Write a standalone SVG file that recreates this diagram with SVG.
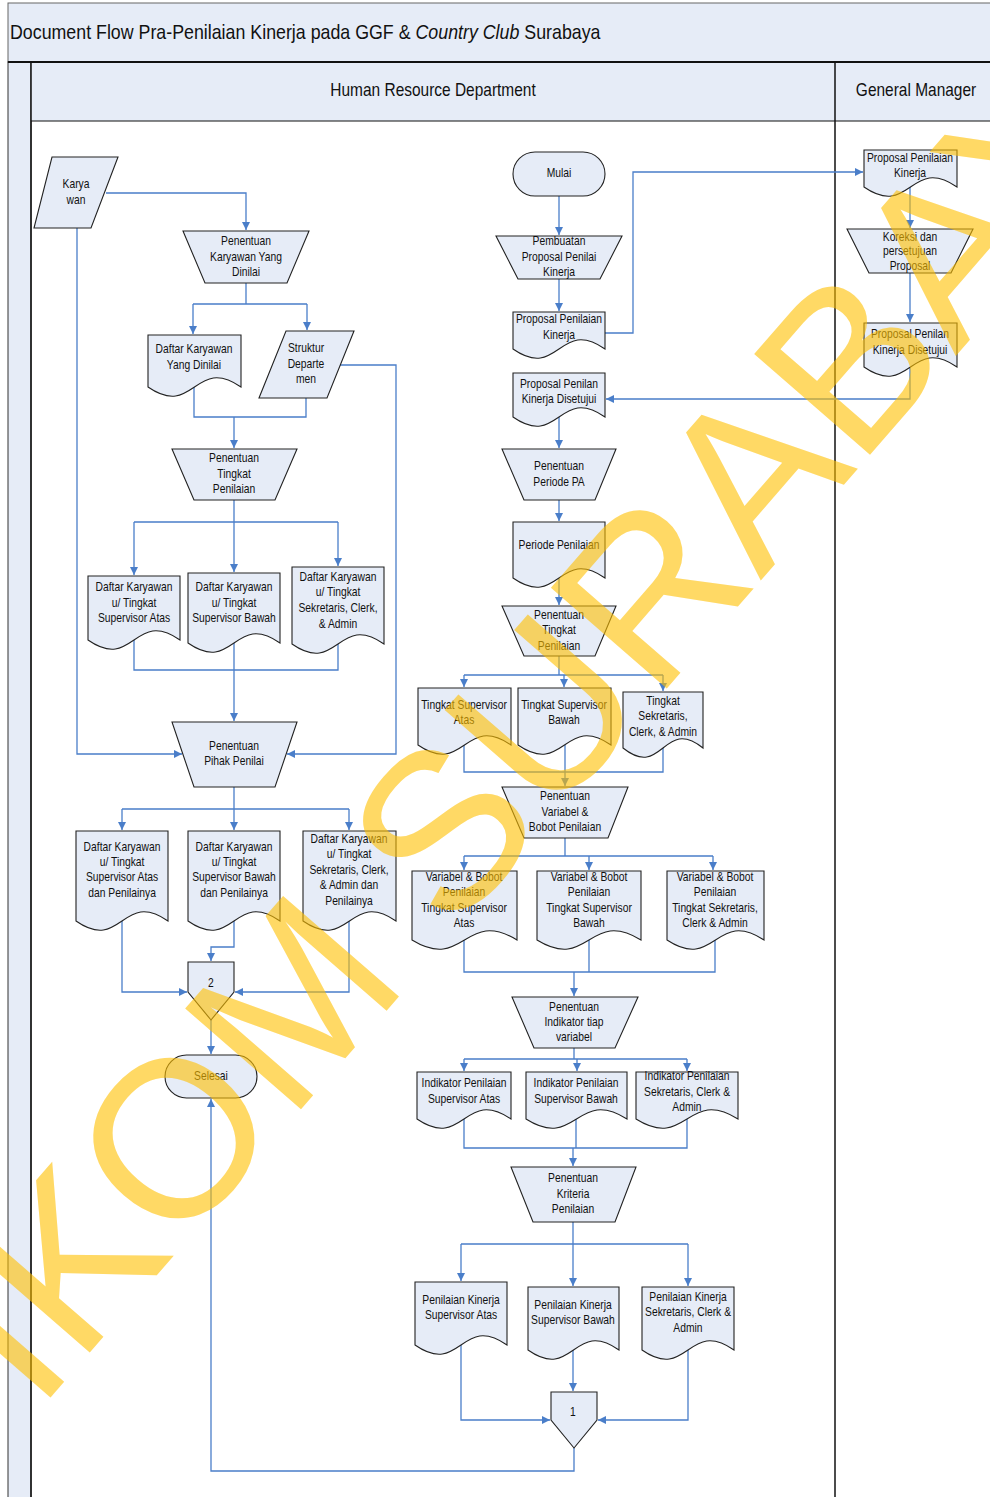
<svg xmlns="http://www.w3.org/2000/svg" width="990" height="1497" viewBox="0 0 990 1497">
<defs>
<style>
.t{font-family:"Liberation Sans",Arial,sans-serif;font-size:12px;fill:#111;text-anchor:middle;transform-box:fill-box;transform-origin:center;transform:scaleX(0.86)}
.h{font-size:18px}
.ttl{font-family:"Liberation Sans",Arial,sans-serif;font-size:20.7px;fill:#111;transform-box:fill-box;transform-origin:left center;transform:scaleX(0.86)}
.n{fill:#E6ECF7;stroke:#222;stroke-width:1.1}
.c{fill:none;stroke:#4A7EC9;stroke-width:1.3}
.a{marker-end:url(#ar)}
.wm{font-family:"Liberation Sans",Arial,sans-serif;font-size:223px;fill:#FFC000;opacity:0.6}
</style>
<marker id="ar" markerUnits="userSpaceOnUse" markerWidth="9" markerHeight="9" refX="8" refY="4" orient="auto">
<path d="M0,0 L8,4 L0,8 Z" fill="#4A7EC9"/>
</marker>
</defs>
<rect x="0" y="0" width="990" height="1497" fill="#fff"/>
<g id="frame">
<rect x="8" y="3" width="990" height="59" fill="#E6ECF7" stroke="#666" stroke-width="1"/>
<rect x="8" y="62" width="23" height="1440" fill="#E6ECF7" stroke="#333" stroke-width="1"/>
<rect x="31" y="62" width="960" height="59" fill="#E6ECF7"/>
<line x1="8" y1="62" x2="990" y2="62" stroke="#111" stroke-width="2"/>
<line x1="31" y1="121" x2="990" y2="121" stroke="#111" stroke-width="1.2"/>
<line x1="31" y1="62" x2="31" y2="1497" stroke="#111" stroke-width="1.5"/>
<line x1="835" y1="62" x2="835" y2="1497" stroke="#111" stroke-width="1.5"/>
<text class="ttl" x="10" y="39">Document Flow Pra-Penilaian Kinerja pada GGF &amp; <tspan font-style="italic">Country Club</tspan> Surabaya</text>
<text class="t h" x="433" y="96">Human Resource Department</text>
<text class="t h" x="916" y="96">General Manager</text>
</g>
<g id="connectors">
<path class="c a" d="M106,193 H246 V230"/>
<path class="c a" d="M77,228 V754 H182"/>
<path class="c" d="M246,283 V304 M193,304 H307"/>
<path class="c a" d="M193,304 V334"/>
<path class="c a" d="M307,304 V330"/>
<path class="c a" d="M340,365 H396 V754 H287"/>
<path class="c" d="M194,387 V417 H306 V398"/>
<path class="c a" d="M234,417 V448"/>
<path class="c" d="M234,500 V522 M134,522 H338"/>
<path class="c a" d="M134,522 V575"/>
<path class="c a" d="M234,522 V572"/>
<path class="c a" d="M338,522 V566"/>
<path class="c" d="M134,640 V670 H338 V644 M234,643 V670"/>
<path class="c a" d="M234,670 V721"/>
<path class="c" d="M234,787 V809 M122,809 H349"/>
<path class="c a" d="M122,809 V830"/>
<path class="c a" d="M234,809 V830"/>
<path class="c a" d="M349,809 V830"/>
<path class="c a" d="M122,921 V992 H187"/>
<path class="c a" d="M234,921 V947 H211 V961"/>
<path class="c a" d="M349,921 V992 H235"/>
<path class="c a" d="M211,1020 V1054"/>
<path class="c a" d="M574,1448 V1471 H211 V1099"/>
<path class="c a" d="M559,196 V235"/>
<path class="c a" d="M559,279 V311"/>
<path class="c a" d="M605,333 H633 V172 H863"/>
<path class="c a" d="M910,187 V228"/>
<path class="c a" d="M910,273 V322"/>
<path class="c a" d="M910,367 V399 H606"/>
<path class="c a" d="M559,417 V448"/>
<path class="c a" d="M559,500 V521"/>
<path class="c a" d="M559,578 V605"/>
<path class="c" d="M559,656 V675 M464,675 H663"/>
<path class="c a" d="M464,675 V687"/>
<path class="c a" d="M564,675 V687"/>
<path class="c a" d="M663,675 V691"/>
<path class="c" d="M464,745 V772 H663 V748 M565,745 V772"/>
<path class="c a" d="M565,772 V786"/>
<path class="c" d="M565,838 V856 M464,856 H713"/>
<path class="c a" d="M464,856 V870"/>
<path class="c a" d="M589,856 V870"/>
<path class="c a" d="M713,856 V870"/>
<path class="c" d="M464,940 V972 H715 V940 M589,940 V972"/>
<path class="c a" d="M574,972 V996"/>
<path class="c" d="M574,1048 V1059 M464,1059 H687"/>
<path class="c a" d="M464,1059 V1071"/>
<path class="c a" d="M577,1059 V1071"/>
<path class="c a" d="M687,1059 V1071"/>
<path class="c" d="M464,1119 V1148 H687 V1119 M576,1119 V1148"/>
<path class="c a" d="M573,1148 V1166"/>
<path class="c" d="M573,1222 V1244 M461,1244 H688"/>
<path class="c a" d="M461,1244 V1281"/>
<path class="c a" d="M573,1244 V1286"/>
<path class="c a" d="M688,1244 V1286"/>
<path class="c a" d="M461,1345 V1420 H550"/>
<path class="c a" d="M573,1350 V1391"/>
<path class="c a" d="M688,1350 V1420 H598"/>
</g>
<g id="n-karyawan"><path class="n" d="M52,157 H118 L91,228 H34 Z"/><text class="t" x="76" y="188">Karya</text><text class="t" x="76" y="204">wan</text></g>
<g id="n-pen-karyawan"><path class="n" d="M183,231 H309 L287,283 H205 Z"/><text class="t" x="246" y="245">Penentuan</text><text class="t" x="246" y="261">Karyawan Yang</text><text class="t" x="246" y="276">Dinilai</text></g>
<g id="n-daftar-dinilai"><path class="n" d="M148,335 H241 V387 C194.5,355 194.5,419 148,387 Z"/><text class="t" x="194" y="353">Daftar Karyawan</text><text class="t" x="194" y="369">Yang Dinilai</text></g>
<g id="n-struktur"><path class="n" d="M286,331 H354 L327,398 H259 Z"/><text class="t" x="306" y="352">Struktur</text><text class="t" x="306" y="368">Departe</text><text class="t" x="306" y="383">men</text></g>
<g id="n-pen-tingkat-l"><path class="n" d="M172,449 H297 L275,500 H194 Z"/><text class="t" x="234" y="462">Penentuan</text><text class="t" x="234" y="478">Tingkat</text><text class="t" x="234" y="493">Penilaian</text></g>
<g id="n-daftar-sa"><path class="n" d="M88,576 H180 V640 C134,608 134,672 88,640 Z"/><text class="t" x="134" y="591">Daftar Karyawan</text><text class="t" x="134" y="607">u/ Tingkat</text><text class="t" x="134" y="622">Supervisor Atas</text></g>
<g id="n-daftar-sb"><path class="n" d="M188,573 H280 V643 C234,611 234,675 188,643 Z"/><text class="t" x="234" y="591">Daftar Karyawan</text><text class="t" x="234" y="607">u/ Tingkat</text><text class="t" x="234" y="622">Supervisor Bawah</text></g>
<g id="n-daftar-sk"><path class="n" d="M292,567 H384 V644 C338,612 338,676 292,644 Z"/><text class="t" x="338" y="581">Daftar Karyawan</text><text class="t" x="338" y="596">u/ Tingkat</text><text class="t" x="338" y="612">Sekretaris, Clerk,</text><text class="t" x="338" y="628">&amp; Admin</text></g>
<g id="n-pihak"><path class="n" d="M172,722 H297 L275,787 H194 Z"/><text class="t" x="234" y="750">Penentuan</text><text class="t" x="234" y="765">Pihak Penilai</text></g>
<g id="n-daftar-sa-p"><path class="n" d="M76,831 H168 V921 C122,889 122,953 76,921 Z"/><text class="t" x="122" y="851">Daftar Karyawan</text><text class="t" x="122" y="866">u/ Tingkat</text><text class="t" x="122" y="881">Supervisor Atas</text><text class="t" x="122" y="897">dan Penilainya</text></g>
<g id="n-daftar-sb-p"><path class="n" d="M188,831 H280 V921 C234,889 234,953 188,921 Z"/><text class="t" x="234" y="851">Daftar Karyawan</text><text class="t" x="234" y="866">u/ Tingkat</text><text class="t" x="234" y="881">Supervisor Bawah</text><text class="t" x="234" y="897">dan Penilainya</text></g>
<g id="n-daftar-sk-p"><path class="n" d="M303,831 H396 V921 C349.5,889 349.5,953 303,921 Z"/><text class="t" x="349" y="843">Daftar Karyawan</text><text class="t" x="349" y="858">u/ Tingkat</text><text class="t" x="349" y="874">Sekretaris, Clerk,</text><text class="t" x="349" y="889">&amp; Admin dan</text><text class="t" x="349" y="905">Penilainya</text></g>
<g id="n-conn2"><path class="n" d="M188,962 H234 V992 L211,1020 L188,992 Z"/><text class="t" x="211" y="987">2</text></g>
<g id="n-selesai"><rect class="n" x="165" y="1055" width="92" height="43" rx="21.5"/><text class="t" x="211" y="1080">Selesai</text></g>
<g id="n-mulai"><rect class="n" x="513" y="152" width="92" height="44" rx="22"/><text class="t" x="559" y="177">Mulai</text></g>
<g id="n-pembuatan"><path class="n" d="M496,236 H622 L600,279 H518 Z"/><text class="t" x="559" y="245">Pembuatan</text><text class="t" x="559" y="261">Proposal Penilai</text><text class="t" x="559" y="276">Kinerja</text></g>
<g id="n-proposal"><path class="n" d="M513,312 H605 V349 C559,317 559,381 513,349 Z"/><text class="t" x="559" y="323">Proposal Penilaian</text><text class="t" x="559" y="339">Kinerja</text></g>
<g id="n-proposal-ok"><path class="n" d="M513,373 H605 V417 C559,385 559,449 513,417 Z"/><text class="t" x="559" y="388">Proposal Penilan</text><text class="t" x="559" y="403">Kinerja Disetujui</text></g>
<g id="n-periode-pa"><path class="n" d="M502,449 H616 L595,500 H524 Z"/><text class="t" x="559" y="470">Penentuan</text><text class="t" x="559" y="486">Periode PA</text></g>
<g id="n-periode"><path class="n" d="M513,522 H605 V578 C559,546 559,610 513,578 Z"/><text class="t" x="559" y="549">Periode Penilaian</text></g>
<g id="n-pen-tingkat-m"><path class="n" d="M502,606 H616 L595,656 H524 Z"/><text class="t" x="559" y="619">Penentuan</text><text class="t" x="559" y="634">Tingkat</text><text class="t" x="559" y="650">Penilaian</text></g>
<g id="n-t-sa"><path class="n" d="M418,688 H511 V745 C464.5,713 464.5,777 418,745 Z"/><text class="t" x="464" y="709">Tingkat Supervisor</text><text class="t" x="464" y="724">Atas</text></g>
<g id="n-t-sb"><path class="n" d="M518,688 H611 V745 C564.5,713 564.5,777 518,745 Z"/><text class="t" x="564" y="709">Tingkat Supervisor</text><text class="t" x="564" y="724">Bawah</text></g>
<g id="n-t-sk"><path class="n" d="M623,692 H703 V748 C663,716 663,780 623,748 Z"/><text class="t" x="663" y="705">Tingkat</text><text class="t" x="663" y="720">Sekretaris,</text><text class="t" x="663" y="736">Clerk, &amp; Admin</text></g>
<g id="n-pen-variabel"><path class="n" d="M502,787 H628 L608,838 H524 Z"/><text class="t" x="565" y="800">Penentuan</text><text class="t" x="565" y="816">Variabel &amp;</text><text class="t" x="565" y="831">Bobot Penilaian</text></g>
<g id="n-var-sa"><path class="n" d="M412,871 H517 V940 C464.5,908 464.5,972 412,940 Z"/><text class="t" x="464" y="881">Variabel &amp; Bobot</text><text class="t" x="464" y="896">Penilaian</text><text class="t" x="464" y="912">Tingkat Supervisor</text><text class="t" x="464" y="927">Atas</text></g>
<g id="n-var-sb"><path class="n" d="M537,871 H641 V940 C589,908 589,972 537,940 Z"/><text class="t" x="589" y="881">Variabel &amp; Bobot</text><text class="t" x="589" y="896">Penilaian</text><text class="t" x="589" y="912">Tingkat Supervisor</text><text class="t" x="589" y="927">Bawah</text></g>
<g id="n-var-sk"><path class="n" d="M667,871 H764 V940 C715.5,908 715.5,972 667,940 Z"/><text class="t" x="715" y="881">Variabel &amp; Bobot</text><text class="t" x="715" y="896">Penilaian</text><text class="t" x="715" y="912">Tingkat Sekretaris,</text><text class="t" x="715" y="927">Clerk &amp; Admin</text></g>
<g id="n-pen-indikator"><path class="n" d="M512,997 H638 L615,1048 H534 Z"/><text class="t" x="574" y="1011">Penentuan</text><text class="t" x="574" y="1026">Indikator tiap</text><text class="t" x="574" y="1041">variabel</text></g>
<g id="n-ind-sa"><path class="n" d="M417,1072 H511 V1119 C464,1087 464,1151 417,1119 Z"/><text class="t" x="464" y="1087">Indikator Penilaian</text><text class="t" x="464" y="1103">Supervisor Atas</text></g>
<g id="n-ind-sb"><path class="n" d="M526,1072 H627 V1119 C576.5,1087 576.5,1151 526,1119 Z"/><text class="t" x="576" y="1087">Indikator Penilaian</text><text class="t" x="576" y="1103">Supervisor Bawah</text></g>
<g id="n-ind-sk"><path class="n" d="M636,1072 H738 V1119 C687,1087 687,1151 636,1119 Z"/><text class="t" x="687" y="1080">Indikator Penilaian</text><text class="t" x="687" y="1096">Sekretaris, Clerk &amp;</text><text class="t" x="687" y="1111">Admin</text></g>
<g id="n-pen-kriteria"><path class="n" d="M511,1167 H636 L615,1222 H533 Z"/><text class="t" x="573" y="1182">Penentuan</text><text class="t" x="573" y="1198">Kriteria</text><text class="t" x="573" y="1213">Penilaian</text></g>
<g id="n-pk-sa"><path class="n" d="M415,1282 H507 V1345 C461,1313 461,1377 415,1345 Z"/><text class="t" x="461" y="1304">Penilaian Kinerja</text><text class="t" x="461" y="1319">Supervisor Atas</text></g>
<g id="n-pk-sb"><path class="n" d="M528,1287 H619 V1350 C573.5,1318 573.5,1382 528,1350 Z"/><text class="t" x="573" y="1309">Penilaian Kinerja</text><text class="t" x="573" y="1324">Supervisor Bawah</text></g>
<g id="n-pk-sk"><path class="n" d="M642,1287 H734 V1350 C688,1318 688,1382 642,1350 Z"/><text class="t" x="688" y="1301">Penilaian Kinerja</text><text class="t" x="688" y="1316">Sekretaris, Clerk &amp;</text><text class="t" x="688" y="1332">Admin</text></g>
<g id="n-conn1"><path class="n" d="M551,1392 H597 V1420 L574,1448 L551,1420 Z"/><text class="t" x="573" y="1416">1</text></g>
<g id="n-gm-proposal"><path class="n" d="M864,150 H957 V187 C910.5,155 910.5,219 864,187 Z"/><text class="t" x="910" y="162">Proposal Penilaian</text><text class="t" x="910" y="177">Kinerja</text></g>
<g id="n-koreksi"><path class="n" d="M847,229 H973 L951,273 H869 Z"/><text class="t" x="910" y="241">Koreksi dan</text><text class="t" x="910" y="255">persetujuan</text><text class="t" x="910" y="270">Proposal</text></g>
<g id="n-gm-ok"><path class="n" d="M864,323 H957 V367 C910.5,335 910.5,399 864,367 Z"/><text class="t" x="910" y="338">Proposal Penilan</text><text class="t" x="910" y="354">Kinerja Disetujui</text></g>
<g id="watermark"><text class="wm" transform="translate(37,1413) rotate(-49)" x="0" y="0">IKOM SURABAYA</text></g>
</svg>
